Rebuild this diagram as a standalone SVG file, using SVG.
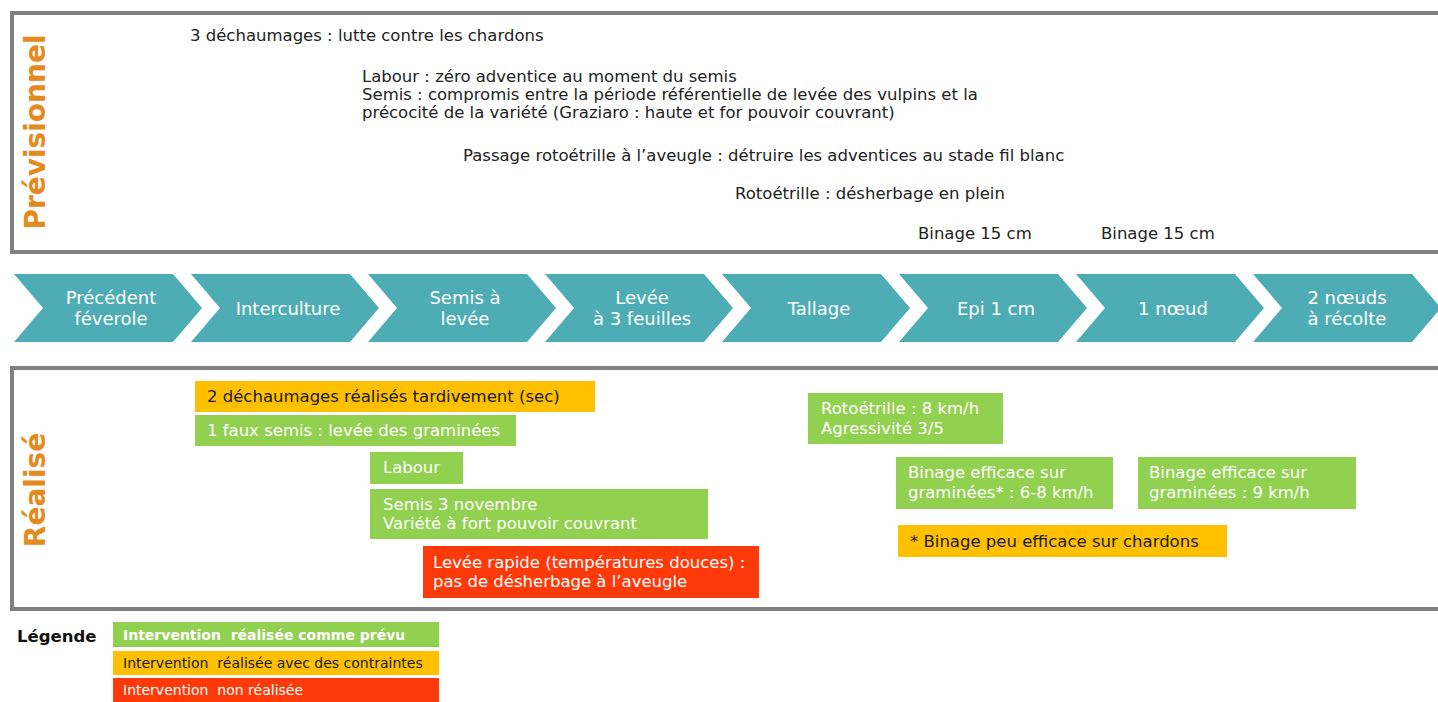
<svg xmlns="http://www.w3.org/2000/svg" width="1438" height="702" viewBox="0 0 1438 702">
<style>
.frame{fill:#fff;stroke:#808080;stroke-width:4}
.side{font-family:"DejaVu Sans",sans-serif;font-weight:bold;font-size:28px;fill:#E38B1E}
.t{font-family:"DejaVu Sans",sans-serif;font-size:16.5px;fill:#222}
.chev{fill:#4EADB4}
.ct{font-family:"DejaVu Sans",sans-serif;font-size:18px;fill:#fff;text-anchor:middle}
.g{fill:#92D050}
.o{fill:#FFC000}
.r{fill:#FF3A0A}
.bw{font-family:"DejaVu Sans",sans-serif;font-size:16.5px;fill:#fff}
.bk{font-family:"DejaVu Sans",sans-serif;font-size:16.5px;fill:#1a1a1a}
.lg{font-family:"DejaVu Sans",sans-serif;font-size:14px}
</style>
<rect width="1438" height="702" fill="#fff"/>

<g id="previsionnel">
<rect class="frame" x="12" y="13" width="1440" height="239"/>
<text class="side" transform="translate(45,132) rotate(-90)" text-anchor="middle">Prévisionnel</text>
<text class="t" x="190" y="41">3 déchaumages : lutte contre les chardons</text>
<text class="t" x="362" y="82">Labour : zéro adventice au moment du semis</text>
<text class="t" x="362" y="100">Semis : compromis entre la période référentielle de levée des vulpins et la</text>
<text class="t" x="362" y="118">précocité de la variété (Graziaro : haute et for pouvoir couvrant)</text>
<text class="t" x="463" y="161">Passage rotoétrille à l’aveugle : détruire les adventices au stade fil blanc</text>
<text class="t" x="735" y="199">Rotoétrille : désherbage en plein</text>
<text class="t" x="918" y="239">Binage 15 cm</text>
<text class="t" x="1101" y="239">Binage 15 cm</text>
</g>

<g id="stades">
<g id="stade1"><path class="chev" d="M14,274 H173 L202,308 L173,342 H14 L43,308 Z"/><text class="ct" x="111" y="304">Précédent</text><text class="ct" x="111" y="325">féverole</text></g>
<g id="stade2"><path class="chev" d="M191,274 H350 L379,308 L350,342 H191 L220,308 Z"/><text class="ct" x="288" y="315">Interculture</text></g>
<g id="stade3"><path class="chev" d="M368,274 H527 L556,308 L527,342 H368 L397,308 Z"/><text class="ct" x="465" y="304">Semis à</text><text class="ct" x="465" y="325">levée</text></g>
<g id="stade4"><path class="chev" d="M545,274 H704 L733,308 L704,342 H545 L574,308 Z"/><text class="ct" x="642" y="304">Levée</text><text class="ct" x="642" y="325">à 3 feuilles</text></g>
<g id="stade5"><path class="chev" d="M722,274 H881 L910,308 L881,342 H722 L751,308 Z"/><text class="ct" x="819" y="315">Tallage</text></g>
<g id="stade6"><path class="chev" d="M899,274 H1058 L1087,308 L1058,342 H899 L928,308 Z"/><text class="ct" x="996" y="315">Epi 1 cm</text></g>
<g id="stade7"><path class="chev" d="M1076,274 H1235 L1264,308 L1235,342 H1076 L1105,308 Z"/><text class="ct" x="1173" y="315">1 nœud</text></g>
<g id="stade8"><path class="chev" d="M1253,274 H1412 L1441,308 L1412,342 H1253 L1282,308 Z"/><text class="ct" x="1347" y="304">2 nœuds</text><text class="ct" x="1347" y="325">à récolte</text></g>
</g>

<g id="realise">
<rect class="frame" x="12" y="368" width="1440" height="241"/>
<text class="side" transform="translate(45,490) rotate(-90)" text-anchor="middle">Réalisé</text>
</g>

<g id="r1"><rect class="o" x="195" y="381" width="400" height="31"/><text class="bk" x="207" y="402">2 déchaumages réalisés tardivement (sec)</text></g>
<g id="r2"><rect class="g" x="195" y="415" width="321" height="31"/><text class="bw" x="207" y="436">1 faux semis : levée des graminées</text></g>
<g id="r3"><rect class="g" x="370" y="452" width="93" height="32"/><text class="bw" x="383" y="473">Labour</text></g>
<g id="r4"><rect class="g" x="370" y="489" width="338" height="50"/><text class="bw" x="383" y="510">Semis 3 novembre</text><text class="bw" x="383" y="529">Variété à fort pouvoir couvrant</text></g>
<g id="r5"><rect class="r" x="423" y="546" width="336" height="52"/><text class="bw" x="433" y="568">Levée rapide (températures douces) :</text><text class="bw" x="433" y="587">pas de désherbage à l’aveugle</text></g>
<g id="r6"><rect class="g" x="808" y="393" width="195" height="51"/><text class="bw" x="821" y="414">Rotoétrille : 8 km/h</text><text class="bw" x="821" y="434">Agressivité 3/5</text></g>
<g id="r7"><rect class="g" x="896" y="457" width="217" height="52"/><text class="bw" x="908" y="478">Binage efficace sur</text><text class="bw" x="908" y="498">graminées* : 6-8 km/h</text></g>
<g id="r8"><rect class="g" x="1138" y="457" width="218" height="52"/><text class="bw" x="1149" y="478">Binage efficace sur</text><text class="bw" x="1149" y="498">graminées : 9 km/h</text></g>
<g id="r9"><rect class="o" x="898" y="525" width="329" height="32"/><text class="bk" x="910" y="547">* Binage peu efficace sur chardons</text></g>

<g id="legende">
<text x="17" y="642" font-family="DejaVu Sans, sans-serif" font-weight="bold" font-size="16.5" fill="#111">Légende</text>
<rect class="g" x="113" y="622" width="326" height="25"/>
<text class="lg" x="123" y="640" fill="#fff" font-weight="bold" font-size="13.5" xml:space="preserve">Intervention  réalisée comme prévu</text>
<rect class="o" x="113" y="651" width="326" height="24"/>
<text class="lg" x="123" y="668" fill="#1a1a1a" xml:space="preserve">Intervention  réalisée avec des contraintes</text>
<rect class="r" x="113" y="678" width="326" height="26"/>
<text class="lg" x="123" y="695" fill="#fff" xml:space="preserve">Intervention  non réalisée</text>
</g>
</svg>
